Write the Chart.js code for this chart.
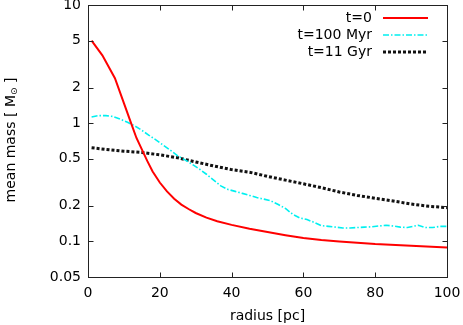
<!DOCTYPE html>
<html>
<head>
<meta charset="utf-8">
<script src="https://cdn.jsdelivr.net/npm/chart.js@4"></script>
<style>
  html, body { margin: 0; padding: 0; background: #fff; }
  #wrap { width: 463px; height: 325px; }
</style>
</head>
<body>
<div id="wrap"><canvas id="chartContainer" width="463" height="325"></canvas></div>
<script>
// radius [pc] / mean mass [Msun]
const redR = [1, 4, 7.5, 10, 12, 13.5, 15, 16.5, 18, 20, 22, 24, 26, 28, 30, 33, 36, 40, 45, 50, 55, 60, 65, 70, 80, 90, 100];
const redM = [5.0, 3.75, 2.4, 1.48, 1.0, 0.75, 0.6, 0.48, 0.39, 0.315, 0.265, 0.23, 0.205, 0.188, 0.174, 0.159, 0.148, 0.138, 0.128, 0.12, 0.113, 0.107, 0.103, 0.1, 0.095, 0.092, 0.089];

const cyanR = [1, 3, 5, 7, 9, 11, 13, 15, 17, 19, 21, 23, 25, 27, 29, 31, 33, 35, 37, 39, 41, 43, 45, 47, 49, 51, 53, 55, 57, 59, 61, 63, 65, 67, 69, 71, 73, 75, 77, 79, 81, 83, 85, 87, 89, 91, 92, 94, 96, 98, 100];
const cyanM = [1.13, 1.16, 1.16, 1.14, 1.08, 1.02, 0.95, 0.87, 0.79, 0.72, 0.65, 0.59, 0.53, 0.49, 0.45, 0.41, 0.37, 0.33, 0.295, 0.275, 0.265, 0.255, 0.245, 0.235, 0.228, 0.22, 0.205, 0.19, 0.17, 0.158, 0.153, 0.145, 0.136, 0.134, 0.132, 0.13, 0.13, 0.131, 0.132, 0.133, 0.135, 0.137, 0.135, 0.132, 0.131, 0.135, 0.137, 0.131, 0.131, 0.134, 0.134];

const blackR = [1, 5, 10, 15, 20, 25, 30, 35, 40, 45, 50, 55, 60, 65, 70, 75, 80, 85, 90, 95, 100];
const blackM = [0.62, 0.6, 0.58, 0.565, 0.54, 0.51, 0.47, 0.435, 0.405, 0.385, 0.355, 0.33, 0.307, 0.285, 0.262, 0.245, 0.232, 0.22, 0.207, 0.198, 0.193];

const seriesNames = ["t=0", "t=100 Myr", "t=11 Gyr"];
const yTicks = [0.05, 0.1, 0.2, 0.5, 1, 2, 5, 10];
const xTicks = [0, 20, 40, 60, 80, 100];

const FONT = "'DejaVu Sans', Verdana, sans-serif";

const toPoints = (xs, ys) => xs.map((x, i) => ({x: x, y: ys[i]}));

// frame, inward ticks on all sides, legend and y title (gnuplot look)
const framePlugin = {
  id: "frame",
  afterDatasetsDraw(chart) {
    const ctx = chart.ctx;
    const a = chart.chartArea;
    const sx = chart.scales.x, sy = chart.scales.y;
    ctx.save();
    ctx.strokeStyle = "#222";
    ctx.lineWidth = 1;
    const L = Math.round(a.left) + 0.5, R = Math.round(a.right) + 0.5;
    const T = Math.round(a.top) + 0.5, B = Math.round(a.bottom) + 0.5;
    ctx.strokeRect(L, T, R - L, B - T);
    ctx.beginPath();
    xTicks.forEach(v => {
      const px = Math.round(sx.getPixelForValue(v)) + 0.5;
      ctx.moveTo(px, B); ctx.lineTo(px, B - 5);
      ctx.moveTo(px, T); ctx.lineTo(px, T + 5);
    });
    yTicks.forEach(v => {
      const py = Math.round(sy.getPixelForValue(v)) + 0.5;
      ctx.moveTo(L, py); ctx.lineTo(L + 5, py);
      ctx.moveTo(R, py); ctx.lineTo(R - 5, py);
    });
    ctx.stroke();

    // legend: text right aligned, sample on the right
    ctx.font = "14px " + FONT;
    ctx.textAlign = "right";
    ctx.textBaseline = "middle";
    chart.data.datasets.forEach((ds, i) => {
      const y = 18 + i * 17;
      ctx.fillStyle = "#000";
      ctx.fillText(ds.label, 372, y);
      ctx.save();
      ctx.strokeStyle = ds.borderColor;
      ctx.lineWidth = ds.borderWidth;
      ctx.setLineDash(ds.borderDash || []);
      ctx.beginPath();
      ctx.moveTo(383, y);
      ctx.lineTo(428, y);
      ctx.stroke();
      ctx.restore();
    });

    // y title with subscript sun symbol
    ctx.translate(11, 140);
    ctx.rotate(-Math.PI / 2);
    ctx.fillStyle = "#000";
    ctx.textBaseline = "middle";
    ctx.textAlign = "left";
    const main = "mean mass [ M";
    const sub = "\u2299";
    const tail = " ]";
    ctx.font = "14px " + FONT;
    const w1 = ctx.measureText(main).width;
    const w3 = ctx.measureText(tail).width;
    ctx.font = "9px " + FONT;
    const w2 = ctx.measureText(sub).width;
    const x0 = -(w1 + w2 + w3) / 2;
    ctx.font = "14px " + FONT;
    ctx.fillText(main, x0, 0);
    ctx.font = "9px " + FONT;
    ctx.fillText(sub, x0 + w1, 4);
    ctx.font = "14px " + FONT;
    ctx.fillText(tail, x0 + w1 + w2, 0);
    ctx.restore();
  }
};

const chartOptions = {
  type: "line",
  data: {
    datasets: [
      {
        label: seriesNames[0],
        data: toPoints(redR, redM),
        borderColor: "#ff0000",
        borderWidth: 2,
      },
      {
        label: seriesNames[1],
        data: toPoints(cyanR, cyanM),
        borderColor: "#00f0f0",
        borderWidth: 1.6,
        borderDash: [6, 2, 1.5, 2],
      },
      {
        label: seriesNames[2],
        data: toPoints(blackR, blackM),
        borderColor: "#111",
        borderWidth: 3,
        borderDash: [3, 2],
      },
    ],
  },
  options: {
    responsive: false,
    animation: false,
    devicePixelRatio: 1,
    elements: {
      point: { radius: 0 },
      line: { tension: 0, borderCapStyle: "butt" },
    },
    layout: { padding: { left: 0, right: 16, top: 5, bottom: 0 } },
    plugins: {
      legend: { display: false },
      tooltip: { enabled: false },
    },
    scales: {
      x: {
        type: "linear",
        min: 0,
        max: 100,
        grid: { display: false, drawTicks: false },
        border: { display: false },
        afterBuildTicks: s => { s.ticks = xTicks.map(v => ({value: v})); },
        afterFit: s => { s.height = 48; s.paddingLeft = 0; s.paddingRight = 0; },
        ticks: {
          color: "#000",
          padding: 8,
          maxRotation: 0,
          font: { family: FONT, size: 14 },
        },
        title: {
          display: true,
          text: "radius [pc]",
          color: "#000",
          padding: { top: 0, bottom: 0 },
          font: { family: FONT, size: 14 },
        },
      },
      y: {
        type: "logarithmic",
        min: 0.05,
        max: 10,
        grid: { display: false, drawTicks: false },
        border: { display: false },
        afterBuildTicks: s => { s.ticks = yTicks.map(v => ({value: v})); },
        afterFit: s => { s.width = 88; s.paddingTop = 0; s.paddingBottom = 0; },
        ticks: {
          color: "#000",
          padding: 7,
          font: { family: FONT, size: 14 },
          callback: v => String(v),
        },
      },
    },
  },
  plugins: [framePlugin],
};

const chart = new Chart(document.getElementById("chartContainer"), chartOptions);
</script>
</body>
</html>
